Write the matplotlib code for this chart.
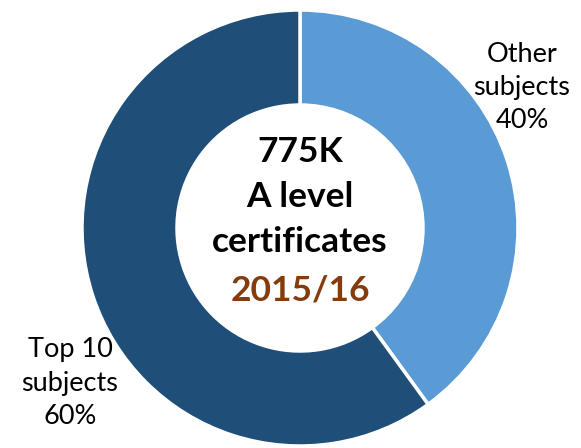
import matplotlib.pyplot as plt

labels = ["Other\nsubjects\n40%", "Top 10\nsubjects\n60%"]
shares = [40, 60]
colors = ["#5B9BD5", "#1F4E79"]
centre_lines = ["775K", "A level", "certificates"]
year_label = "2015/16"

W, H = 581, 448
fig = plt.figure(figsize=(W / 100, H / 100), dpi=100)
ax = fig.add_axes([0, 0, 1, 1])

cx, cy = 300, H - 228
r_out, r_in = 218, 123

ax.pie(shares, colors=colors, startangle=90, counterclock=False,
       center=(cx, cy), radius=r_out, frame=True,
       wedgeprops=dict(width=r_out - r_in, edgecolor="white", linewidth=2.5))
ax.set_xlim(0, W)
ax.set_ylim(0, H)
ax.set_aspect("equal")
ax.axis("off")

font = "Lato"
ax.text(522, H - 87, labels[0], ha="center", va="center", fontsize=19.5,
        family=font, linespacing=1.4)
ax.text(70, H - 383, labels[1], ha="center", va="center", fontsize=19.5,
        family=font, linespacing=1.4)

for i, s in enumerate(centre_lines):
    ax.text(cx, H - (152 + 45 * i), s, ha="center", va="center",
            fontsize=25.5, fontweight="bold", family=font)
ax.text(cx, H - 290, year_label, ha="center", va="center", fontsize=25.5,
        fontweight="bold", family=font, color="#843C0C")

fig.savefig("out.png", dpi=100)
